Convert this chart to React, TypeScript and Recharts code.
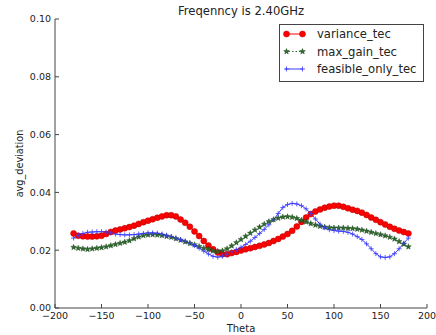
import { LineChart, Line, XAxis, YAxis, Legend, Label } from 'recharts'

const THETA = [
  -180, -175, -170, -165, -160, -155, -150, -145, -140, -135, -130, -125, -120, -115, -110, -105, -100, -95, -90,
  -85, -80, -75, -70, -65, -60, -55, -50, -45, -40, -35, -30, -25, -20, -15, -10, -5, 0, 5, 10, 15, 20, 25, 30, 35,
  40, 45, 50, 55, 60, 65, 70, 75, 80, 85, 90, 95, 100, 105, 110, 115, 120, 125, 130, 135, 140, 145, 150, 155, 160,
  165, 170, 175, 180,
]

const VARIANCE_TEC = [
  0.0258, 0.025, 0.0248, 0.0247, 0.0247, 0.0248, 0.025, 0.0256, 0.0263, 0.0268, 0.0272, 0.0276, 0.028, 0.0285,
  0.0291, 0.0297, 0.0302, 0.0307, 0.0312, 0.0317, 0.0321, 0.0321, 0.0317, 0.0306, 0.0295, 0.0281, 0.0265, 0.0249,
  0.0232, 0.0216, 0.0203, 0.0192, 0.0186, 0.0186, 0.019, 0.0194, 0.0199, 0.0203, 0.0207, 0.0211, 0.0215, 0.022,
  0.0225, 0.0232, 0.0239, 0.0247, 0.0256, 0.0267, 0.0282, 0.0298, 0.0313, 0.0325, 0.0334, 0.0341, 0.0347, 0.0351,
  0.0354, 0.0354, 0.035, 0.0345, 0.034, 0.0336, 0.033, 0.0322, 0.0313, 0.0305, 0.0297, 0.0289, 0.0281, 0.0274,
  0.0268, 0.0263, 0.0258,
]

const MAX_GAIN_TEC = [
  0.021, 0.0207, 0.0205, 0.0203, 0.0205, 0.0207, 0.0209, 0.0212, 0.0216, 0.022, 0.0224, 0.0228, 0.0233, 0.024,
  0.0246, 0.0251, 0.0253, 0.0254, 0.0253, 0.0251, 0.0248, 0.0245, 0.024, 0.0235, 0.0229, 0.0224, 0.0219, 0.0213,
  0.0207, 0.0202, 0.0198, 0.0196, 0.0198, 0.0205, 0.0215, 0.0226, 0.0237, 0.0248, 0.0259, 0.027, 0.028, 0.029,
  0.0299, 0.0306, 0.0311, 0.0315, 0.0316, 0.0314, 0.031, 0.0304, 0.0298, 0.0292, 0.0287, 0.0283, 0.028, 0.0278,
  0.0277, 0.0277, 0.0277, 0.0276, 0.0275, 0.0273, 0.027, 0.0266, 0.0262, 0.0258, 0.0254, 0.025, 0.0245, 0.0239,
  0.023, 0.0221, 0.0212,
]

const FEASIBLE_ONLY_TEC = [
  0.0242, 0.0252, 0.0258, 0.0262, 0.0263, 0.0264, 0.0264, 0.0263, 0.026, 0.0256, 0.0254, 0.0253, 0.0253, 0.0254,
  0.0256, 0.0258, 0.026, 0.026, 0.0259, 0.0256, 0.0252, 0.0247, 0.0242, 0.0237, 0.0231, 0.0224, 0.0216, 0.0207,
  0.0197, 0.0187, 0.0179, 0.0176, 0.0179, 0.0186, 0.0194, 0.0202, 0.021, 0.022, 0.0231, 0.0244, 0.0258, 0.0272,
  0.0288, 0.0305, 0.0327, 0.0348, 0.0358, 0.0362, 0.036, 0.0354, 0.0343, 0.0327, 0.0308, 0.029, 0.0278, 0.0271,
  0.0268, 0.0266, 0.0265, 0.0262, 0.0256, 0.0247, 0.0237, 0.0222, 0.0205, 0.0188, 0.0177, 0.0175, 0.0177, 0.0188,
  0.0205, 0.0224, 0.0242,
]

const SERIES = ['variance_tec', 'max_gain_tec', 'feasible_only_tec']
const X_TICKS = [-200, -150, -100, -50, 0, 50, 100, 150, 200]
const Y_TICKS = [0, 0.02, 0.04, 0.06, 0.08, 0.1]

const data = THETA.map((theta, i) => ({
  theta,
  variance_tec: VARIANCE_TEC[i],
  max_gain_tec: MAX_GAIN_TEC[i],
  feasible_only_tec: FEASIBLE_ONLY_TEC[i],
}))

const FRAME = '#444'
const TEXT = '#222'
const RED = '#ff0000'
const GREEN = '#2b6b2b'
const BLUE = '#3a3aff'

const fmtX = (v: number) => (v < 0 ? '\u2212' + Math.abs(v) : String(v))

function starPoints(cx: number, cy: number, R: number, r: number) {
  const pts: string[] = []
  for (let k = 0; k < 10; k++) {
    const a = -Math.PI / 2 + (k * Math.PI) / 5
    const rad = k % 2 === 0 ? R : r
    pts.push(`${cx + rad * Math.cos(a)},${cy + rad * Math.sin(a)}`)
  }
  return pts.join(' ')
}

function Marker({ kind, cx, cy }: { kind: string; cx: number; cy: number }) {
  if (kind === 'variance_tec')
    return <circle cx={cx} cy={cy} r={3} fill={RED} stroke="#a00" strokeWidth={0.5} />
  if (kind === 'max_gain_tec')
    return <polygon points={starPoints(cx, cy, 3, 1.3)} fill={GREEN} stroke="#143814" strokeWidth={0.4} />
  return (
    <g stroke={BLUE} strokeWidth={0.8}>
      <line x1={cx - 2.5} y1={cy} x2={cx + 2.5} y2={cy} />
      <line x1={cx} y1={cy - 2.5} x2={cx} y2={cy + 2.5} />
    </g>
  )
}

const dotFor = (kind: string) => (p: any) =>
  p.cx == null ? <g key={p.index} /> : <Marker key={p.index} kind={kind} cx={p.cx} cy={p.cy} />

const BottomTick = (p: any) => (
  <g>
    <line x1={p.x} y1={p.y} x2={p.x} y2={p.y - 4} stroke={FRAME} />
    <text x={p.x} y={p.y + 11} textAnchor="middle" fontSize={9.5} fill={TEXT}>
      {fmtX(p.payload.value)}
    </text>
  </g>
)

const TopTick = (p: any) => <line x1={p.x} y1={p.y} x2={p.x} y2={p.y + 4} stroke={FRAME} />

const LeftTick = (p: any) => (
  <g>
    <line x1={p.x} y1={p.y} x2={p.x + 4} y2={p.y} stroke={FRAME} />
    <text x={p.x - 4} y={p.y} dy="0.36em" textAnchor="end" fontSize={9.5} fill={TEXT}>
      {p.payload.value.toFixed(2)}
    </text>
  </g>
)

const RightTick = (p: any) => <line x1={p.x} y1={p.y} x2={p.x - 4} y2={p.y} stroke={FRAME} />

function LegendBox({ payload }: any) {
  const items = [...(payload || [])].sort(
    (a: any, b: any) => SERIES.indexOf(a.dataKey) - SERIES.indexOf(b.dataKey),
  )
  return (
    <svg width={146} height={58} style={{ display: 'block' }}>
      <rect x={0.5} y={0.5} width={144} height={57} fill="#fff" stroke={FRAME} />
      {items.map((entry: any, i: number) => {
        const y = 10 + i * 17.5
        const kind = entry.dataKey
        const color = kind === 'variance_tec' ? RED : kind === 'max_gain_tec' ? GREEN : BLUE
        return (
          <g key={kind}>
            <line
              x1={6}
              y1={y}
              x2={24}
              y2={y}
              stroke={color}
              strokeWidth={1}
              strokeDasharray={kind === 'max_gain_tec' ? '1.5 2' : undefined}
            />
            <Marker kind={kind} cx={7.5} cy={y} />
            <Marker kind={kind} cx={23.5} cy={y} />
            <text x={38} y={y} dy="0.36em" fontSize={11.6} fill={TEXT}>
              {entry.value}
            </text>
          </g>
        )
      })}
    </svg>
  )
}

export default function App() {
  return (
    <div
      style={{
        position: 'absolute',
        left: 0,
        top: 0,
        width: 436,
        height: 335,
        fontFamily: '"DejaVu Sans", sans-serif',
        background: '#fff',
      }}
    >
      <div
        style={{
          position: 'absolute',
          left: 55,
          top: 5,
          width: 372,
          textAlign: 'center',
          fontSize: 11.6,
          lineHeight: '12px',
          color: TEXT,
          whiteSpace: 'nowrap',
        }}
      >
        Freqenncy is 2.40GHz
      </div>
      <LineChart width={436} height={335} data={data} margin={{ top: 19, right: 9, bottom: 0, left: 0 }}>
        <XAxis
          dataKey="theta"
          type="number"
          domain={[-200, 200]}
          ticks={X_TICKS}
          height={27}
          tickSize={0}
          tickMargin={0}
          tick={BottomTick}
          tickLine={false}
          axisLine={{ stroke: FRAME }}
          interval={0}
        >
          <Label value="Theta" position="insideBottom" offset={3} fontSize={10} fill={TEXT} />
        </XAxis>
        <XAxis
          xAxisId="top"
          orientation="top"
          type="number"
          domain={[-200, 200]}
          ticks={X_TICKS}
          height={0}
          tickSize={0}
          tickMargin={0}
          tick={TopTick}
          tickLine={false}
          axisLine={{ stroke: FRAME }}
          interval={0}
        />
        <YAxis
          type="number"
          domain={[0, 0.1]}
          ticks={Y_TICKS}
          width={55}
          tickSize={0}
          tickMargin={0}
          tick={LeftTick}
          tickLine={false}
          axisLine={{ stroke: FRAME }}
          interval={0}
        >
          <Label
            content={(props: any) => {
              const vb = props.viewBox
              const cx = vb.x + 23
              const cy = vb.y + vb.height / 2
              return (
                <text x={cx} y={cy} transform={`rotate(-90 ${cx} ${cy})`} textAnchor="middle" fontSize={9.7} fill={TEXT}>
                  avg_deviation
                </text>
              )
            }}
          />
        </YAxis>
        <YAxis
          yAxisId="right"
          orientation="right"
          type="number"
          domain={[0, 0.1]}
          ticks={Y_TICKS}
          width={0}
          tickSize={0}
          tickMargin={0}
          tick={RightTick}
          tickLine={false}
          axisLine={{ stroke: FRAME }}
          interval={0}
        />
        <Legend
          layout="vertical"
          align="center"
          verticalAlign="middle"
          content={LegendBox}
          wrapperStyle={{ position: 'absolute', left: 279, top: 24, width: 146, height: 58 }}
        />
        <Line
          type="linear"
          dataKey="variance_tec"
          name="variance_tec"
          stroke={RED}
          strokeWidth={1}
          dot={dotFor('variance_tec')}
          isAnimationActive={false}
        />
        <Line
          type="linear"
          dataKey="max_gain_tec"
          name="max_gain_tec"
          stroke={GREEN}
          strokeWidth={1}
          strokeDasharray="1.5 2"
          dot={dotFor('max_gain_tec')}
          isAnimationActive={false}
        />
        <Line
          type="linear"
          dataKey="feasible_only_tec"
          name="feasible_only_tec"
          stroke={BLUE}
          strokeWidth={1}
          dot={dotFor('feasible_only_tec')}
          isAnimationActive={false}
        />
      </LineChart>
    </div>
  )
}
